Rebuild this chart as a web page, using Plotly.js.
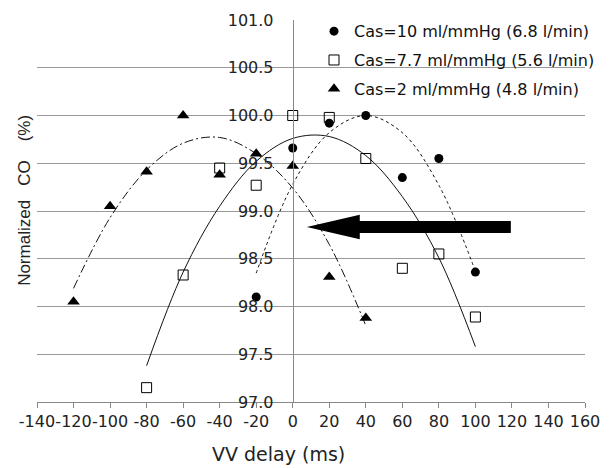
<!DOCTYPE html>
<html>
<head>
<meta charset="utf-8">
<script src="https://cdn.plot.ly/plotly-3.0.1.min.js"></script>
<style>html,body{margin:0;padding:0;background:#fff;}#chart{width:611px;height:468px;}</style>
</head>
<body>
<div id="chart"></div>
<script>
// VV delay values (ms)
const delaysCas10 = [-20, 0, 20, 40, 60, 80, 100];
const coCas10 = [98.10, 99.66, 99.92, 100.0, 99.35, 99.55, 98.36];

const delaysCas77 = [-80, -60, -40, -20, 0, 20, 40, 60, 80, 100];
const coCas77 = [97.15, 98.33, 99.45, 99.27, 100.0, 99.98, 99.55, 98.40, 98.55, 97.89];

const delaysCas2 = [-120, -100, -80, -60, -40, -20, 0, 20, 40];
const coCas2 = [98.05, 99.05, 99.41, 100.0, 99.38, 99.60, 99.47, 98.31, 97.88];

// Trend curves
const trendX10 = [-20, 0, 20, 40, 60, 80, 100];
const trendY10 = [98.35, 99.28, 99.82, 100.0, 99.82, 99.27, 98.37];
const trendX77 = [-80, -60, -40, -20, 0, 20, 40, 60, 80, 100];
const trendY77 = [97.38, 98.36, 99.05, 99.52, 99.76, 99.78, 99.58, 99.15, 98.51, 97.58];
const trendX2 = [-120, -100, -80, -60, -40, -20, 0, 20, 40];
const trendY2 = [98.19, 98.93, 99.43, 99.71, 99.77, 99.60, 99.24, 98.65, 97.80];

// Axis ticks
const xTickVals = [-140, -120, -100, -80, -60, -40, -20, 0, 20, 40, 60, 80, 100, 120, 140, 160];
const xTickText = ['-140', '-120', '-100', '-80', '-60', '-40', '-20', '0', '20', '40', '60', '80', '100', '120', '140', '160'];

const legendNames = [
  'Cas=10 ml/mmHg (6.8 l/min)',
  'Cas=7.7 ml/mmHg (5.6 l/min)',
  'Cas=2 ml/mmHg (4.8 l/min)'
];
const xTitle = 'VV delay (ms)';
const yTitle = 'Normalized\u00a0\u00a0\u00a0CO\u00a0\u00a0\u00a0\u00a0(%)';

const FONT_H = 'DejaVu Sans, Verdana, sans-serif';
const FONT_V = 'Liberation Sans, Arial, sans-serif';

const traces = [
  {x: trendX10, y: trendY10, mode: 'lines', line: {color: '#111', width: 1, dash: '3px,3px', shape: 'spline', smoothing: 1}, showlegend: false, hoverinfo: 'skip'},
  {x: trendX77, y: trendY77, mode: 'lines', line: {color: '#111', width: 1, shape: 'spline', smoothing: 1}, showlegend: false, hoverinfo: 'skip'},
  {x: trendX2, y: trendY2, mode: 'lines', line: {color: '#111', width: 1, dash: '9px,3px,2px,3px', shape: 'spline', smoothing: 1}, showlegend: false, hoverinfo: 'skip'},
  {x: delaysCas10, y: coCas10, mode: 'markers', name: legendNames[0], legendgroup: 'a', marker: {symbol: 'circle', size: 9, color: '#000'}},
  {x: delaysCas77, y: coCas77, mode: 'markers', name: legendNames[1], legendgroup: 'b', marker: {symbol: 'square-open', size: 10, color: '#000', line: {width: 1, color: '#000'}}},
  {x: delaysCas2, y: coCas2, mode: 'markers', name: legendNames[2], legendgroup: 'c', marker: {symbol: 'triangle-up', size: 11, color: '#000'}}
];

// Arrow decoration (data coordinates)
const arrowPath = 'M 119.4,98.895 L 36.7,98.895 L 36.7,98.960 L 7.7,98.832 L 36.7,98.705 L 36.7,98.770 L 119.4,98.770 Z';

const layout = {
  width: 611, height: 468,
  margin: {l: 37, r: 26, t: 20, b: 66, autoexpand: false},
  paper_bgcolor: '#fff', plot_bgcolor: '#fff',
  font: {family: FONT_H, color: '#222'},
  showlegend: true,
  legend: {x: 0.5055, y: 1.015, xanchor: 'left', yanchor: 'top', traceorder: 'grouped', tracegroupgap: 5,
           bgcolor: 'rgba(0,0,0,0)', font: {family: FONT_H, size: 16, color: '#111'}},
  xaxis: {
    range: [-140, 160], tickvals: xTickVals, ticktext: xTickText, tickangle: 0,
    ticks: 'outside', ticklen: 5, tickcolor: '#888',
    showline: true, linecolor: '#888', linewidth: 1,
    showgrid: false, zeroline: false, automargin: false,
    tickfont: {family: FONT_H, size: 16, color: '#222'}
  },
  yaxis: {
    range: [97, 101], dtick: 0.5, tickformat: '.1f',
    anchor: 'free', position: 140 / 300,
    showline: true, linecolor: '#888', linewidth: 1,
    ticks: '', ticklabelstandoff: 16, automargin: false,
    showgrid: true, gridcolor: '#999', gridwidth: 1, zeroline: false,
    tickfont: {family: FONT_H, size: 16, color: '#222'}
  },
  shapes: [{type: 'path', xref: 'x', yref: 'y', path: arrowPath, fillcolor: '#000', line: {width: 0}}],
  annotations: [
    {text: xTitle, xref: 'paper', yref: 'paper', x: 0.4416, y: -0.136, xanchor: 'center', yanchor: 'middle', showarrow: false, font: {family: FONT_H, size: 19, color: '#222'}},
    {text: yTitle, xref: 'paper', yref: 'paper', x: -0.022, y: 0.529, xanchor: 'center', yanchor: 'middle', textangle: -90, showarrow: false, font: {family: FONT_V, size: 17, color: '#222'}}
  ]
};

Plotly.newPlot('chart', traces, layout, {staticPlot: true});
</script>
</body>
</html>
